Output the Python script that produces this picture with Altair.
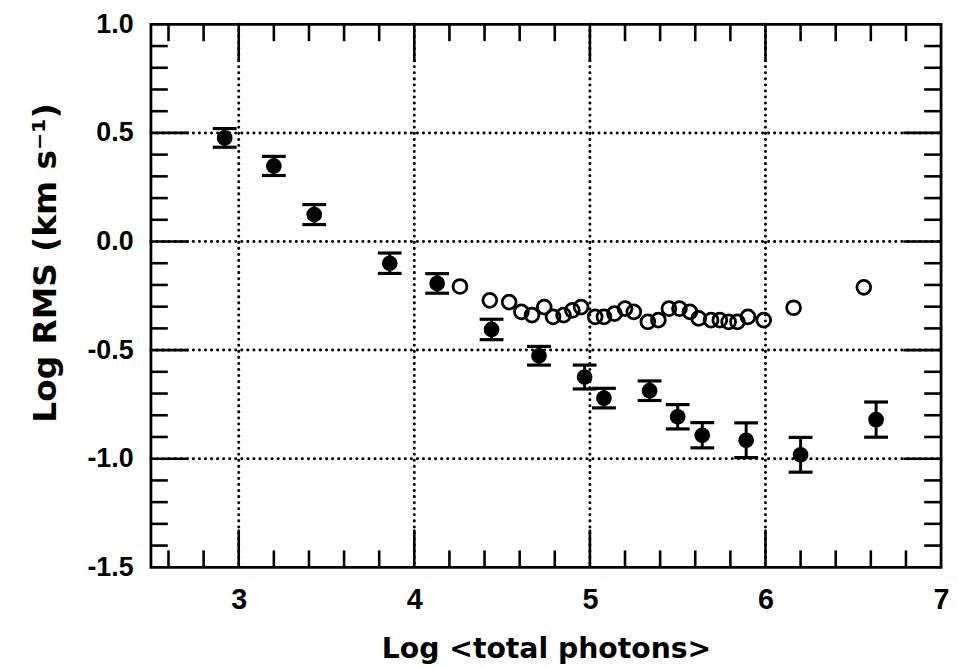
import altair as alt
import pandas as pd

# Filled points with error bars
fx = [2.92, 3.20, 3.43, 3.86, 4.13, 4.44, 4.71, 4.97, 5.08, 5.34, 5.50, 5.64, 5.89, 6.20, 6.63]
fy = [0.477, 0.348, 0.124, -0.10, -0.193, -0.405, -0.526, -0.624, -0.721, -0.687, -0.807, -0.892, -0.915, -0.982, -0.82]
ferr = [0.043, 0.044, 0.046, 0.047, 0.045, 0.047, 0.043, 0.055, 0.045, 0.045, 0.056, 0.058, 0.080, 0.080, 0.081]

# Open circles
ox = [4.26, 4.43, 4.54, 4.61, 4.67, 4.74, 4.79, 4.85, 4.90, 4.95, 5.03, 5.08, 5.14, 5.20, 5.25,
      5.33, 5.39, 5.45, 5.51, 5.57, 5.62, 5.69, 5.74, 5.79, 5.84, 5.90, 5.99, 6.16, 6.56]
oy = [-0.207, -0.271, -0.279, -0.324, -0.339, -0.302, -0.347, -0.339, -0.317, -0.302, -0.347, -0.347,
      -0.332, -0.309, -0.324, -0.370, -0.362, -0.309, -0.309, -0.324, -0.354, -0.362, -0.362, -0.370,
      -0.370, -0.347, -0.362, -0.305, -0.211]

# Axis ticks
x_labels = [3, 4, 5, 6, 7]
y_labels = [-1.5, -1.0, -0.5, 0.0, 0.5, 1.0]
x_major = [3, 4, 5, 6]
y_major = [-1.0, -0.5, 0.0, 0.5]
x_minor = [2.6, 2.8, 3.2, 3.4, 3.6, 3.8, 4.2, 4.4, 4.6, 4.8, 5.2, 5.4, 5.6, 5.8, 6.2, 6.4, 6.6, 6.8]
y_minor = [-1.4, -1.3, -1.2, -1.1, -0.9, -0.8, -0.7, -0.6, -0.4, -0.3, -0.2, -0.1,
           0.1, 0.2, 0.3, 0.4, 0.6, 0.7, 0.8, 0.9]

X_TITLE = "Log <total photons>"
Y_TITLE = "Log RMS  (km  s⁻¹)"

W, H = 796, 547
MAJ, MIN = 38, 17

filled = pd.DataFrame({"x": fx, "y": fy, "lo": [a - e for a, e in zip(fy, ferr)],
                       "hi": [a + e for a, e in zip(fy, ferr)]})
opened = pd.DataFrame({"x": ox, "y": oy})
xmaj = pd.DataFrame({"v": x_major})
ymaj = pd.DataFrame({"v": y_major})
xmin_ = pd.DataFrame({"v": x_minor})
ymin_ = pd.DataFrame({"v": y_minor})

xscale = alt.Scale(domain=[2.5, 7.0], nice=False, zero=False)
yscale = alt.Scale(domain=[-1.5, 1.0], nice=False, zero=False)

xaxis = alt.Axis(values=x_labels, format="d", title=X_TITLE, grid=False,
                 ticks=False, tickSize=0, domain=False, labelFlush=False,
                 labelFont="Liberation Sans", labelFontWeight="bold", labelFontSize=29,
                 labelColor="black", labelPadding=19,
                 titleFont="DejaVu Sans", titleFontWeight="bold", titleFontSize=28.5,
                 titleColor="black", titlePadding=20)
yaxis = alt.Axis(values=y_labels, title=Y_TITLE, grid=False,
                 labelExpr="(datum.value < 0 ? '-' : '') + format(abs(datum.value), '.1f')",
                 ticks=False, tickSize=0, domain=False, labelFlush=False,
                 labelFont="Liberation Sans", labelFontWeight="bold", labelFontSize=27,
                 labelColor="black", labelPadding=18,
                 titleFont="DejaVu Sans", titleFontWeight="bold", titleFontSize=33,
                 titleColor="black", titlePadding=25, titleY=240, titleAlign="center")


def xe(f):
    return alt.X(f, type="quantitative", scale=xscale, axis=xaxis, title=X_TITLE)


def ye(f):
    return alt.Y(f, type="quantitative", scale=yscale, axis=yaxis, title=Y_TITLE)


dot = dict(strokeDash=[0.1, 6.0], strokeCap="round", strokeWidth=3.0, color="black")
grid_x = alt.Chart(xmaj).mark_rule(**dot).encode(x=xe("v"), y=alt.value(0), y2=alt.value(H))
grid_y = alt.Chart(ymaj).mark_rule(**dot).encode(y=ye("v"), x=alt.value(0), x2=alt.value(W))

tk = dict(color="black", strokeWidth=2.6)
ticks = [
    alt.Chart(xmaj).mark_rule(**tk).encode(x=xe("v"), y=alt.value(0), y2=alt.value(MAJ)),
    alt.Chart(xmaj).mark_rule(**tk).encode(x=xe("v"), y=alt.value(H), y2=alt.value(H - MAJ)),
    alt.Chart(xmin_).mark_rule(**tk).encode(x=xe("v"), y=alt.value(0), y2=alt.value(MIN)),
    alt.Chart(xmin_).mark_rule(**tk).encode(x=xe("v"), y=alt.value(H), y2=alt.value(H - MIN)),
    alt.Chart(ymaj).mark_rule(**tk).encode(y=ye("v"), x=alt.value(0), x2=alt.value(MAJ)),
    alt.Chart(ymaj).mark_rule(**tk).encode(y=ye("v"), x=alt.value(W), x2=alt.value(W - MAJ)),
    alt.Chart(ymin_).mark_rule(**tk).encode(y=ye("v"), x=alt.value(0), x2=alt.value(MIN)),
    alt.Chart(ymin_).mark_rule(**tk).encode(y=ye("v"), x=alt.value(W), x2=alt.value(W - MIN)),
]

base_f = alt.Chart(filled)
err_v = base_f.mark_rule(color="black", strokeWidth=3).encode(x=xe("x"), y=ye("lo"), y2="hi:Q")
cap_lo = base_f.mark_tick(orient="horizontal", size=24, thickness=3.2, color="black", opacity=1).encode(
    x=xe("x"), y=ye("lo"))
cap_hi = base_f.mark_tick(orient="horizontal", size=24, thickness=3.2, color="black", opacity=1).encode(
    x=xe("x"), y=ye("hi"))
pts_f = base_f.mark_point(shape="circle", filled=True, size=250, color="black", opacity=1).encode(
    x=xe("x"), y=ye("y"))
pts_o = alt.Chart(opened).mark_point(shape="circle", filled=False, size=195, strokeWidth=2.8,
                                     color="black", opacity=1).encode(x=xe("x"), y=ye("y"))

chart = alt.layer(grid_x, grid_y, *ticks, err_v, cap_lo, cap_hi, pts_o, pts_f).properties(
    width=W, height=H,
    padding={"left": 144, "top": 14, "right": 9, "bottom": 96},
    autosize=alt.AutoSizeParams(type="none"),
    background="white",
).configure_view(stroke="black", strokeWidth=2.8)

chart.save("out.html", embed_options={"renderer": "svg", "actions": False})
